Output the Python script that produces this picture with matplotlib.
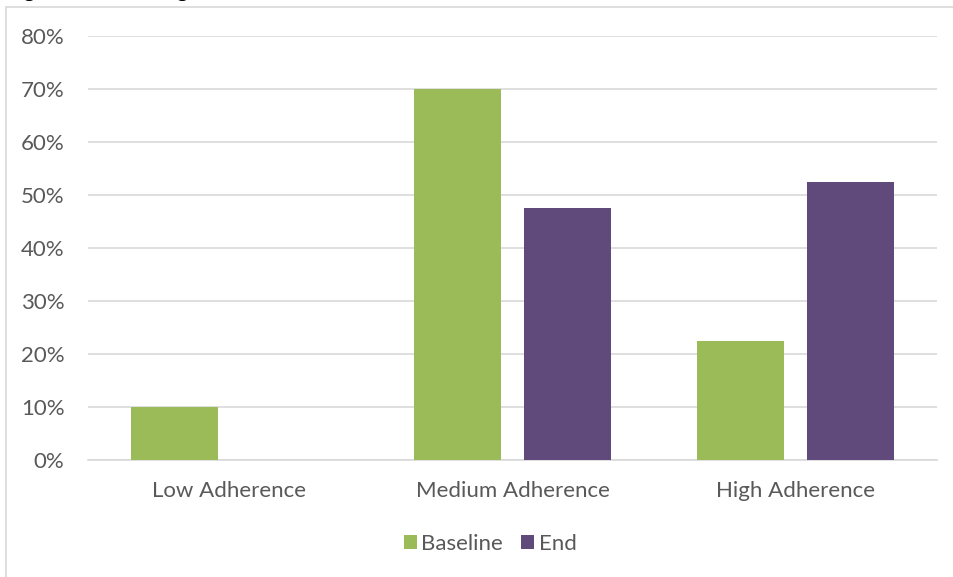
import numpy as np
import matplotlib
matplotlib.use("Agg")
import matplotlib.pyplot as plt
from matplotlib.patches import Rectangle
from matplotlib.ticker import PercentFormatter

plt.rcParams['font.family'] = ['Lato', 'DejaVu Sans']

categories = ["Low Adherence", "Medium Adherence", "High Adherence"]
baseline = [10.0, 70.0, 22.5]
end = [0.0, 47.5, 52.5]
yticks = [0, 10, 20, 30, 40, 50, 60, 70, 80]

green = "#9BBB59"
purple = "#604A7B"
grey_text = "#595959"
grid_col = "#D9D9D9"

fig = plt.figure(figsize=(9.54, 5.77), dpi=100)

# chart frame (top and left edges show, the rest runs off the page)
fig.patches.append(Rectangle((6 / 954, -0.05), 1.1, 1 - 6.5 / 577 + 0.05,
                             transform=fig.transFigure, fill=False,
                             edgecolor=grid_col, linewidth=1.2))

# title sits above the frame, mostly cropped
fig.text(7 / 954, 1 + 3 / 577, "Figure 3: Percentage Adherence Level",
         fontsize=15, fontweight='bold', color='black', va='baseline', ha='left')

ax = fig.add_axes([88 / 954, 1 - 460 / 577, (937 - 88) / 954, (460 - 36) / 577])

x = np.arange(len(categories))
w = 0.307
off = 0.194
ax.bar(x - off, baseline, width=w, color=green, label="Baseline", zorder=3)
ax.bar(x + off, end, width=w, color=purple, label="End", zorder=3)

ax.set_xlim(-0.5, 2.5)
ax.set_ylim(0, 80)
ax.set_yticks(yticks)
ax.yaxis.set_major_formatter(PercentFormatter(decimals=0))
ax.set_xticks(x)
ax.set_xticklabels(categories)

ax.grid(axis='y', color=grid_col, linewidth=1.2, zorder=0)
for s in ['top', 'right', 'left']:
    ax.spines[s].set_visible(False)
ax.spines['bottom'].set_color(grid_col)
ax.spines['bottom'].set_linewidth(1.2)
ax.tick_params(axis='both', length=0, labelsize=16, labelcolor=grey_text)
ax.tick_params(axis='y', pad=17)
ax.tick_params(axis='x', pad=15)

fig.legend(loc='center', bbox_to_anchor=(490 / 954, 1 - 544 / 577), ncol=2,
           frameon=False, fontsize=16, labelcolor=grey_text,
           handlelength=0.6, handleheight=0.6, handletextpad=0.2,
           columnspacing=0.8)

fig.savefig("out.png", dpi=100)
